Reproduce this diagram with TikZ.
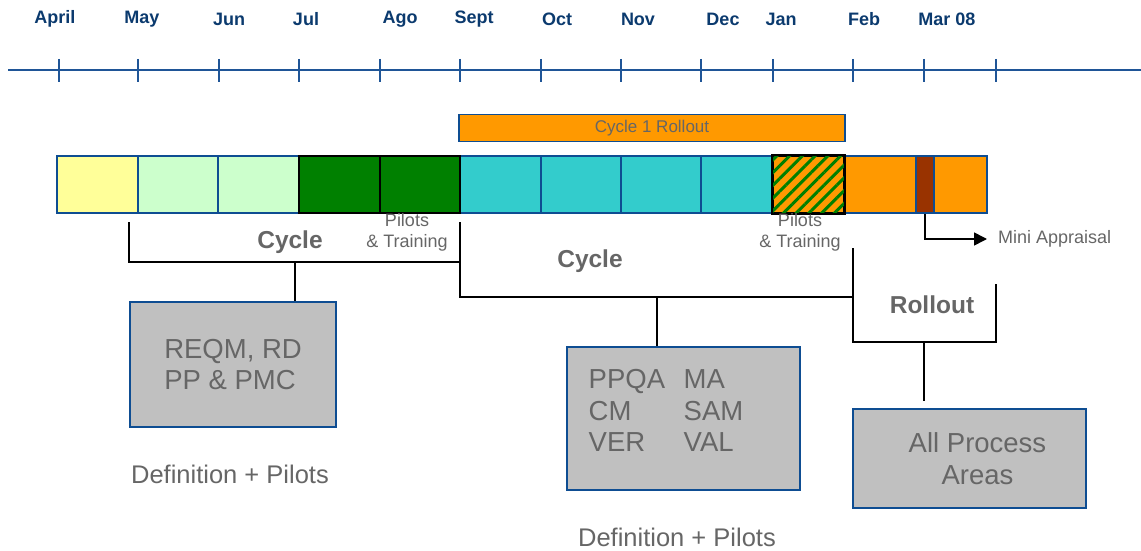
\documentclass[tikz,border=0pt]{standalone}
\usepackage{fontspec}
\setmainfont{Liberation Sans}
\usetikzlibrary{patterns.meta,arrows.meta}

\definecolor{monthblue}{HTML}{0B3A6E}
\definecolor{axisblue}{HTML}{1F5597}
\definecolor{cellblue}{HTML}{0E4D92}
\definecolor{textgray}{HTML}{666666}
\definecolor{cyellow}{HTML}{FFFF99}
\definecolor{clgreen}{HTML}{CCFFCC}
\definecolor{cdgreen}{HTML}{008000}
\definecolor{ccyan}{HTML}{33CCCC}
\definecolor{corange}{HTML}{FF9900}
\definecolor{cbrown}{HTML}{993300}
\definecolor{boxgray}{HTML}{C0C0C0}

\tikzset{
  month/.style={font=\fontsize{18}{18}\selectfont\bfseries, text=monthblue, inner sep=0pt},
  axis/.style={draw=axisblue, line width=1.8pt},
  cell/.style={draw=cellblue, line width=1.6pt, minimum height=57pt, inner sep=0pt},
  blackcell/.style={cell, draw=black},
  bracket/.style={draw=black, line width=1.6pt},
  greybox/.style={fill=boxgray, draw=cellblue, line width=1.4pt, inner sep=0pt,
    text=textgray, font=\fontsize{27.5}{31.5}\selectfont},
  bigword/.style={font=\fontsize{24.5}{24.5}\selectfont\bfseries, text=textgray, inner sep=0pt},
  small/.style={font=\fontsize{18}{21}\selectfont, text=textgray, inner sep=0pt, align=center},
  caption/.style={font=\fontsize{25.5}{25.5}\selectfont, text=textgray, inner sep=0pt}
}

\begin{document}
\begin{tikzpicture}[x=1pt,y=-1pt]
\useasboundingbox (0,0) rectangle (1141,551);

%% month axis
\coordinate (axl) at (8,70);
\coordinate (axr) at (1141,70);
\draw[axis] (axl) -- (axr);
\draw[axis] (59,59) -- (59,82);
\draw[axis] (138,59) -- (138,82);
\draw[axis] (219,59) -- (219,82);
\draw[axis] (299,59) -- (299,82);
\draw[axis] (380,59) -- (380,82);
\draw[axis] (460,59) -- (460,82);
\draw[axis] (541,59) -- (541,82);
\draw[axis] (621,59) -- (621,82);
\draw[axis] (701,59) -- (701,82);
\draw[axis] (773,59) -- (773,82);
\draw[axis] (853,59) -- (853,82);
\draw[axis] (924,59) -- (924,82);
\draw[axis] (996,59) -- (996,82);

\node[month] (apr) at (55,19) {April};
\node[month] (may) at (142,19) {May};
\node[month] (jun) at (229,19) {Jun};
\node[month] (jul) at (306,19) {Jul};
\node[month] (ago) at (400,19) {Ago};
\node[month] (sep) at (474,19) {Sept};
\node[month] (oct) at (557,19) {Oct};
\node[month] (nov) at (638,19) {Nov};
\node[month] (dec) at (723,19) {Dec};
\node[month] (jan) at (781,19) {Jan};
\node[month] (feb) at (864,19) {Feb};
\node[month] (mar) at (947,19) {Mar 08};

%% rollout bar
\node[cell, fill=corange, minimum width=386pt, minimum height=27pt,
  font=\fontsize{17}{17}\selectfont, text=textgray] (rollbar) at (652,128) {Cycle 1 Rollout};

%% month cells
\node[cell, fill=cyellow, minimum width=81pt] (m1) at (97.5,184.5) {};
\node[cell, fill=clgreen, minimum width=80pt] (m2) at (178,184.5) {};
\node[cell, fill=clgreen, minimum width=81pt] (m3) at (258.5,184.5) {};
\node[cell, fill=ccyan, minimum width=81pt] (m6) at (500.5,184.5) {};
\node[cell, fill=ccyan, minimum width=80pt] (m7) at (581,184.5) {};
\node[cell, fill=ccyan, minimum width=80pt] (m8) at (661,184.5) {};
\node[cell, fill=ccyan, minimum width=72pt] (m9) at (737,184.5) {};
\node[cell, fill=corange, minimum width=72pt] (m11) at (880,184.5) {};
\node[cell, fill=corange, minimum width=53pt] (m13) at (960.5,184.5) {};
\node[cell, fill=cbrown, minimum width=18pt] (m12) at (925,184.5) {};
\node[blackcell, fill=cdgreen, minimum width=81pt] (m4) at (339.5,184.5) {};
\node[blackcell, fill=cdgreen, minimum width=80pt] (m5) at (420,184.5) {};
\node[blackcell, fill=corange, minimum width=71pt,
  postaction={pattern={Lines[angle=45,distance=9pt,line width=3pt]}, pattern color=cdgreen}]
  (m10) at (808.5,184.5) {};
\draw[blackcell, fill=none] (m10.north west) rectangle (m10.south east);

%% labels under the bar
\node[small] (pt1) at (407,232) {Pilots\\\& Training};
\node[small] (pt2) at (800,232) {Pilots\\\& Training};
\node[small, anchor=west] (mini) at (998,239) {Mini Appraisal};
\draw[black, line width=1.6pt, -{Triangle[length=13pt,width=13pt]}]
  (m12.south) |- ([xshift=-11pt]mini.west);

%% cycle 1 bracket
\coordinate (b1l) at (129,222);
\coordinate (b1r) at (460,222);
\coordinate (b1m) at (295,262);
\draw[bracket] (b1l) -- (b1l |- b1m) -- (b1r |- b1m) -- (b1r);
\node[bigword] (cyc1) at (290,242) {Cycle};

%% cycle 2 bracket
\coordinate (b2l) at (460,262);
\coordinate (b2r) at (853,248);
\coordinate (b2m) at (657,297);
\draw[bracket] (b2l) -- (b2l |- b2m) -- (b2r |- b2m) -- (b2r);
\node[bigword] (cyc2) at (590,261) {Cycle};

%% rollout bracket
\coordinate (b3l) at (853,297);
\coordinate (b3r) at (996,284);
\coordinate (b3m) at (924,342);
\draw[bracket] (b3l) -- (b3l |- b3m) -- (b3r |- b3m) -- (b3r);
\node[bigword] (roll) at (932,305) {Rollout};

%% process area boxes
\node[greybox, minimum width=206pt, minimum height=125pt, align=left] (box1) at (233,364.5)
  {REQM, RD\\PP \& PMC};
\node[greybox, minimum width=233pt, minimum height=143pt] (box2) at (683.5,418.5) {};
\node[greybox, fill=none, draw=none, anchor=west, align=left] (box2txt) at (588,410.5)
  {\makebox[95pt][l]{PPQA}MA\\\makebox[95pt][l]{CM}SAM\\\makebox[95pt][l]{VER}VAL};
\node[greybox, minimum width=233pt, minimum height=99pt, align=center] (box3) at (969.5,458.5)
  {\hspace*{16pt}All Process\\\hspace*{16pt}Areas};

\draw[bracket] (b1m) -- (b1m |- box1.north);
\draw[bracket] (b2m) -- (b2m |- box2.north);
\draw[bracket] (b3m) -- (924,401);

\node[caption] (def1) at (230,474) {Definition + Pilots};
\node[caption] (def2) at (677,537) {Definition + Pilots};
\end{tikzpicture}
\end{document}
